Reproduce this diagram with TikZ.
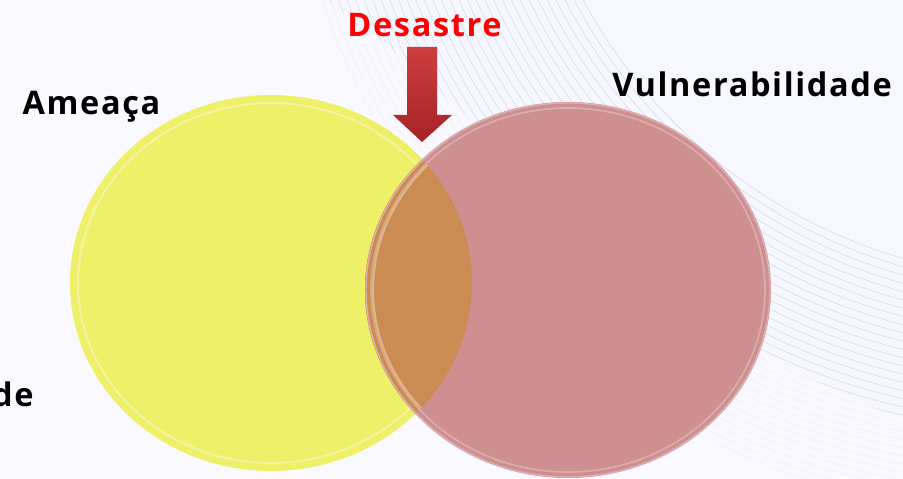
\documentclass[tikz,border=0pt]{standalone}
\usepackage{fontspec}
\setmainfont{Open Sans}
\newfontfamily\labelfont{Open Sans}[LetterSpace=5]
\usepackage{tikz}
\usetikzlibrary{positioning}

\definecolor{ameacayellow}{RGB}{238,240,104}
\definecolor{vulnpink}{RGB}{205,143,143}
\definecolor{mixbrown}{RGB}{202,140,82}
\definecolor{arrowred}{RGB}{205,62,62}
\definecolor{arrowdark}{RGB}{165,35,38}
\definecolor{wavegray}{RGB}{218,224,232}

\begin{document}
\begin{tikzpicture}[
    label/.style={font=\labelfont\fontsize{18.5}{20}\selectfont\bfseries, inner sep=0pt},
    rim/.style={white, line width=1.2pt, opacity=0.35}
  ]
            \clip (0,0) rectangle (18.06,9.58);
            \useasboundingbox (0,0) rectangle (18.06,9.58);
            \fill [white!97!blue](0,0) rectangle (18.06,9.58);
            % background waves
            \foreach \r in {10.6,10.76,...,15.4}
                \draw [wavegray, line width=0.4pt](21,14.6) circle (\r);
            \fill [white!98!blue, opacity=0.75](6.5,9.58) .. controls (9,8) and (13,3) .. (18.06,1.2) -- (18.06,0) -- (0,0) -- (0,9.58) -- cycle;
            % circles
            \fill [ameacayellow](5.42,3.92) ellipse (4.02 and 3.76);
            \draw [rim](5.42,3.92) ellipse (3.86 and 3.60);
            \fill [vulnpink](11.36,3.78) ellipse (4.06 and 3.76);
            \begin{scope}
                \clip (5.42,3.92) ellipse (4.02 and 3.76);
                \fill [mixbrown](11.36,3.78) ellipse (4.06 and 3.76);
                \draw [rim](11.36,3.78) ellipse (3.90 and 3.60);
            \end{scope}
            \draw [white, line width=1pt, opacity=0.25](11.36,3.78) ellipse (3.94 and 3.64);
            \draw [vulnpink!70!white, line width=0.8pt](11.36,3.78) ellipse (4.04 and 3.74);
            % labels
            \node [label, anchor=base] (ameaca) at (1.83,7.28) {Ameaça};
            \node [label, anchor=base, red] (desastre) at (8.49,8.84) {Desastre};
            \node [label, anchor=base] (vuln) at (15.04,7.64) {Vulnerabilidade};
            \node [label, anchor=base east] (de) at (0.68,1.44) {de};
            % arrow
            \shade [top color=arrowred, bottom color=arrowdark](8.14,8.64) -- (8.74,8.64) -- (8.74,7.28) -- (9.04,7.28) -- (8.44,6.74) -- (7.86,7.28) -- (8.14,7.28) -- cycle;
            \end{tikzpicture}
\end{document}
